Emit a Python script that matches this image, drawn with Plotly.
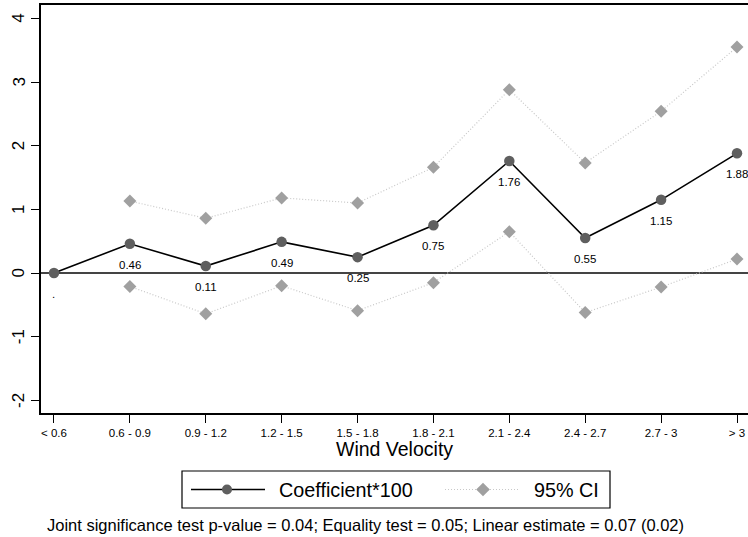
import plotly.graph_objects as go

# ---------------- data ----------------
categories = ["< 0.6", "0.6 - 0.9", "0.9 - 1.2", "1.2 - 1.5", "1.5 - 1.8",
              "1.8 - 2.1", "2.1 - 2.4", "2.4 - 2.7", "2.7 - 3", "> 3"]
coef = [0.0, 0.46, 0.11, 0.49, 0.25, 0.75, 1.76, 0.55, 1.15, 1.88]
coef_labels = [".", "0.46", "0.11", "0.49", "0.25", "0.75", "1.76", "0.55", "1.15", "1.88"]
ci_upper = [None, 1.13, 0.86, 1.18, 1.10, 1.66, 2.88, 1.73, 2.54, 3.55]
ci_lower = [None, -0.21, -0.64, -0.20, -0.59, -0.15, 0.65, -0.62, -0.22, 0.22]
y_ticks = [-2, -1, 0, 1, 2, 3, 4]

x_idx = list(range(len(categories)))

W, H = 748, 537
L, R, T, B = 41, 0, 5, 124
PW, PH = W - L - R, H - T - B

def px_x(px):
    return (px - L) / PW

def px_y(py):
    return (H - B - py) / PH

FONT = "Liberation Sans, Arial, Helvetica, sans-serif"
DARK = "#5f5f5f"
GREY = "#a0a0a0"
LGREY = "#c8c8c8"
DOT = "1px,2px"

fig = go.Figure()

# CI traces
for vals in (ci_upper, ci_lower):
    fig.add_trace(go.Scatter(
        x=x_idx, y=vals, mode="lines+markers",
        line=dict(color=LGREY, width=1.2, dash=DOT),
        marker=dict(symbol="diamond", size=10, color=GREY),
        showlegend=False, cliponaxis=False, connectgaps=False,
    ))

# coefficient trace
fig.add_trace(go.Scatter(
    x=x_idx, y=coef, mode="lines+markers",
    line=dict(color="black", width=1.6),
    marker=dict(symbol="circle", size=10.5, color=DARK),
    showlegend=False, cliponaxis=False,
))

annotations = []
for xi, yv, lab in zip(x_idx, coef, coef_labels):
    annotations.append(dict(
        x=xi, y=yv, xref="x", yref="y", text=lab, showarrow=False,
        yshift=-21, font=dict(family=FONT, size=11.5, color="black"),
        xanchor="center", yanchor="middle",
    ))

# rotated y tick labels
for v in y_ticks:
    annotations.append(dict(
        x=px_x(18.5), y=v, xref="paper", yref="y", text=str(v), showarrow=False,
        textangle=-90, font=dict(family=FONT, size=17, color="black"),
        xanchor="center", yanchor="middle",
    ))

# x title
annotations.append(dict(
    x=0.5, y=px_y(449), xref="paper", yref="paper", text="Wind Velocity",
    showarrow=False, font=dict(family=FONT, size=19.5, color="black"),
    xanchor="center", yanchor="middle",
))

# note
annotations.append(dict(
    x=px_x(45), y=px_y(525), xref="paper", yref="paper",
    text="Joint significance test p-value = 0.04; Equality test = 0.05; Linear estimate = 0.07 (0.02)",
    showarrow=False, font=dict(family=FONT, size=16.5, color="black"),
    xanchor="left", yanchor="middle",
))

# manual legend
shapes = []
leg_y = 489.5
shapes.append(dict(type="rect", xref="paper", yref="paper",
                   x0=px_x(182), x1=px_x(610), y0=px_y(471), y1=px_y(508),
                   line=dict(color="black", width=1.2), fillcolor="white"))
shapes.append(dict(type="line", xref="paper", yref="paper",
                   x0=px_x(191), x1=px_x(265), y0=px_y(leg_y), y1=px_y(leg_y),
                   line=dict(color="black", width=1.6)))
r = 5
shapes.append(dict(type="circle", xref="paper", yref="paper",
                   x0=px_x(227 - r), x1=px_x(227 + r), y0=px_y(leg_y + r), y1=px_y(leg_y - r),
                   line=dict(width=0), fillcolor=DARK))
shapes.append(dict(type="line", xref="paper", yref="paper",
                   x0=px_x(445), x1=px_x(520), y0=px_y(leg_y), y1=px_y(leg_y),
                   line=dict(color=LGREY, width=1.2, dash=DOT)))
d = 6.8
cx = 483
path = "M {} {} L {} {} L {} {} L {} {} Z".format(
    px_x(cx - d), px_y(leg_y), px_x(cx), px_y(leg_y - d),
    px_x(cx + d), px_y(leg_y), px_x(cx), px_y(leg_y + d))
shapes.append(dict(type="path", xref="paper", yref="paper", path=path,
                   line=dict(width=0), fillcolor=GREY))
annotations.append(dict(x=px_x(277), y=px_y(leg_y), xref="paper", yref="paper",
                        text="Coefficient*100", showarrow=False, xanchor="left", yanchor="middle",
                        font=dict(family=FONT, size=19.8, color="black")))
annotations.append(dict(x=px_x(532), y=px_y(leg_y), xref="paper", yref="paper",
                        text="95% CI", showarrow=False, xanchor="left", yanchor="middle",
                        font=dict(family=FONT, size=19.8, color="black")))

fig.update_layout(
    width=W, height=H,
    margin=dict(l=L, r=R, t=T, b=B, pad=0),
    paper_bgcolor="white", plot_bgcolor="white",
    showlegend=False,
    shapes=shapes, annotations=annotations,
    xaxis=dict(
        range=[-0.171, 9.145], tickmode="array", tickvals=x_idx, ticktext=categories,
        showgrid=False, zeroline=False, showline=True, linecolor="black", linewidth=1.5,
        mirror=True, ticks="outside", ticklen=8, tickwidth=1.2, tickcolor="black",
        tickfont=dict(family=FONT, size=11.5, color="black"),
    ),
    yaxis=dict(
        range=[-2.197, 4.209], tickmode="array", tickvals=y_ticks,
        showticklabels=False,
        showgrid=False, zeroline=True, zerolinecolor="#444444", zerolinewidth=1.5,
        showline=True, linecolor="black", linewidth=1.5,
        ticks="outside", ticklen=8, tickwidth=1.2, tickcolor="black",
    ),
)

fig.write_html("out.html")
